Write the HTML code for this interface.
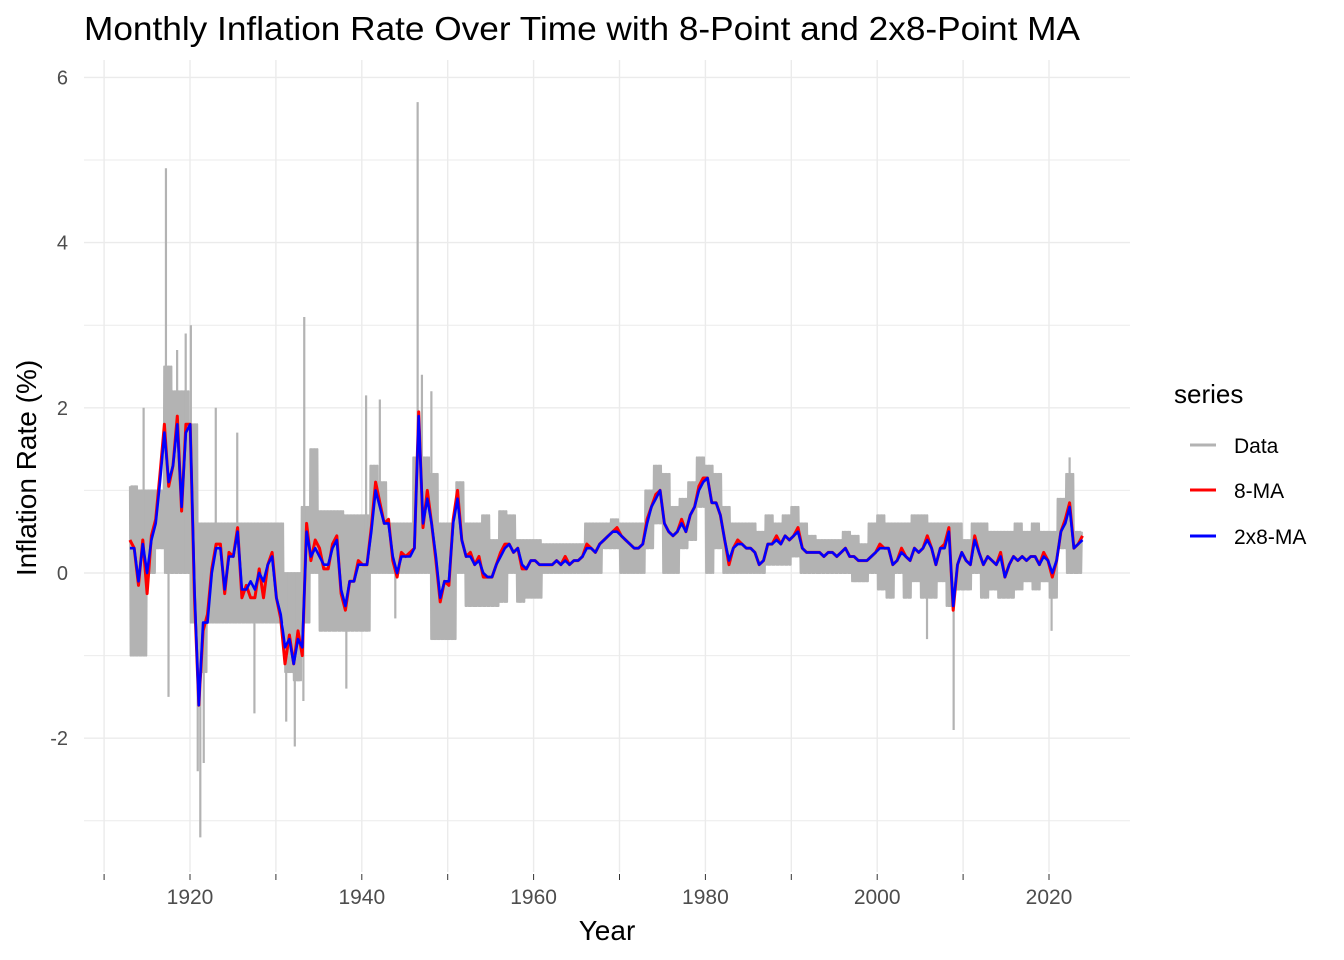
<!DOCTYPE html>
<html><head><meta charset="utf-8"><style>
body{margin:0;background:#fff}
svg{display:block;font-family:"Liberation Sans",Arial,sans-serif}
</style></head><body>
<svg id="chart" width="1344" height="960" viewBox="0 0 1344 960">
<text x="84" y="40" font-size="33" textLength="996" lengthAdjust="spacingAndGlyphs" fill="#000">Monthly Inflation Rate Over Time with 8-Point and 2x8-Point MA</text>
<g id="grid"></g>
<g id="axes"></g>
<g id="series"></g>
<text x="607" y="940" font-size="28" text-anchor="middle">Year</text>
<text transform="translate(36,468) rotate(-90)" font-size="28" text-anchor="middle">Inflation Rate (%)</text>
<g>
<text x="1174" y="403" font-size="26">series</text>
<line x1="1190" y1="445" x2="1216" y2="445" stroke="#b3b3b3" stroke-width="3"/>
<text x="1234" y="453" font-size="21">Data</text>
<line x1="1190" y1="490" x2="1216" y2="490" stroke="#ff0000" stroke-width="3"/>
<text x="1234" y="498" font-size="21">8-MA</text>
<line x1="1190" y1="536" x2="1216" y2="536" stroke="#0000ff" stroke-width="3"/>
<text x="1234" y="544" font-size="21">2x8-MA</text>
</g>
</svg>
<script>
const startYear = 1913;
const yTicks = [-2, 0, 2, 4, 6];
const yMinor = [-3, -1, 1, 3, 5];
const xTicks = [1920, 1940, 1960, 1980, 2000, 2020];
const xMinor = [1910, 1930, 1950, 1970, 1990, 2010];
// grey data: per year typical high / low band readings
const dataBand = [
1.05,-1.0, 1.0,-1.0, 1.0,0.0, 1.0,0.3, 2.5,0.0, 2.2,0.0, 2.2,0.0, 1.8,-0.6, 0.6,-1.2, 0.6,-0.6,
0.6,-0.6, 0.6,-0.6, 0.6,-0.6, 0.6,-0.6, 0.6,-0.6, 0.6,-0.6, 0.6,-0.6, 0.6,-0.6, 0.0,-1.2, 0.0,-1.3,
0.8,-0.6, 1.5,0.0, 0.75,-0.7, 0.75,-0.7, 0.75,-0.7, 0.7,-0.7, 0.7,-0.7, 0.7,-0.7, 1.3,0.0, 1.1,0.0,
0.6,0.0, 0.6,0.0, 0.6,0.0, 1.4,0.0, 1.4,0.0, 1.2,-0.8, 0.6,-0.8, 0.6,-0.8, 1.1,0.0, 0.6,-0.4,
0.6,-0.4, 0.7,-0.4, 0.4,-0.4, 0.75,-0.35, 0.7,0.0, 0.4,-0.35, 0.4,-0.3, 0.4,-0.3, 0.35,0.0, 0.35,0.0,
0.35,0.0, 0.35,0.0, 0.35,0.0, 0.6,0.0, 0.6,0.0, 0.6,0.3, 0.65,0.3, 0.6,0.0, 0.6,0.0, 0.6,0.0,
1.0,0.3, 1.3,0.6, 1.2,0.0, 0.8,0.0, 0.9,0.3, 1.1,0.4, 1.4,0.8, 1.3,0.0, 1.2,0.3, 0.8,0.0,
0.6,0.0, 0.6,0.0, 0.6,0.0, 0.5,0.0, 0.7,0.1, 0.6,0.1, 0.7,0.1, 0.8,0.2, 0.6,0.0, 0.45,0.0,
0.4,0.0, 0.4,0.0, 0.4,0.0, 0.5,0.0, 0.45,-0.1, 0.35,-0.1, 0.6,0.0, 0.7,-0.2, 0.6,-0.3, 0.6,0.0,
0.6,-0.3, 0.7,-0.1, 0.7,-0.3, 0.6,-0.3, 0.6,-0.1, 0.6,-0.4, 0.6,-0.2, 0.4,-0.2, 0.6,0.0, 0.6,-0.3,
0.5,-0.2, 0.5,-0.3, 0.5,-0.3, 0.6,-0.2, 0.5,-0.1, 0.6,-0.2, 0.5,-0.1, 0.5,-0.3, 0.9,0.3, 1.2,0.0,
0.5,0.0];
// isolated monthly spikes: year, value
const spikeYears = [1914.6, 1917.2, 1917.5, 1918.5, 1919.5, 1920.1, 1920.9, 1921.2, 1921.6, 1923.0, 1925.5, 1927.5, 1931.2, 1932.2, 1933.3, 1933.2, 1938.2, 1940.5, 1942.1, 1943.9, 1946.5, 1947.0, 1948.1, 2008.9, 2005.8, 2020.3, 2022.4];
const spikeValues = [2.0, 4.9, -1.5, 2.7, 2.9, 3.0, -2.4, -3.2, -2.3, 2.0, 1.7, -1.7, -1.8, -2.1, 3.1, -1.55, -1.4, 2.15, 2.1, -0.55, 5.7, 2.4, 2.2, -1.9, -0.8, -0.7, 1.4];
// 2x8 MA: two readings per year
const ma2x8 = [
0.3,0.3, -0.1,0.35, 0.0,0.4, 0.6,1.1, 1.7,1.1, 1.3,1.8, 0.8,1.7, 1.8,-0.2, -1.6,-0.6, -0.6,0.0,
0.3,0.3, -0.2,0.2, 0.2,0.5, -0.2,-0.2, -0.1,-0.2, 0.0,-0.1, 0.1,0.2, -0.3,-0.5, -0.9,-0.8, -1.1,-0.8,
-0.9,0.5, 0.2,0.3, 0.2,0.1, 0.1,0.3, 0.4,-0.2, -0.4,-0.1, -0.1,0.1, 0.1,0.1, 0.5,1.0, 0.8,0.6,
0.6,0.2, 0.0,0.2, 0.2,0.2, 0.3,1.9, 0.6,0.9, 0.6,0.2, -0.3,-0.1, -0.1,0.6, 0.9,0.4, 0.2,0.2,
0.1,0.15, 0.0,-0.05, -0.05,0.1, 0.2,0.3, 0.35,0.25, 0.3,0.1, 0.05,0.15, 0.15,0.1, 0.1,0.1, 0.1,0.15,
0.1,0.15, 0.1,0.15, 0.15,0.2, 0.3,0.3, 0.25,0.35, 0.4,0.45, 0.5,0.5, 0.45,0.4, 0.35,0.3, 0.3,0.35,
0.6,0.8, 0.9,1.0, 0.6,0.5, 0.45,0.5, 0.6,0.5, 0.7,0.8, 1.0,1.1, 1.15,0.85, 0.85,0.7, 0.4,0.15,
0.3,0.35, 0.35,0.3, 0.3,0.25, 0.1,0.15, 0.35,0.35, 0.4,0.35, 0.45,0.4, 0.45,0.5, 0.3,0.25, 0.25,0.25,
0.25,0.2, 0.25,0.25, 0.2,0.25, 0.3,0.2, 0.2,0.15, 0.15,0.15, 0.2,0.25, 0.3,0.3, 0.3,0.1, 0.15,0.25,
0.2,0.15, 0.3,0.25, 0.3,0.4, 0.3,0.1, 0.3,0.3, 0.5,-0.4, 0.1,0.25, 0.15,0.1, 0.4,0.25, 0.1,0.2,
0.15,0.1, 0.2,-0.05, 0.1,0.2, 0.15,0.2, 0.15,0.2, 0.2,0.1, 0.2,0.15, 0.0,0.15, 0.5,0.6, 0.8,0.3,
0.35,0.4];
// 8 MA: two readings per year
const ma8 = [
0.4,0.3, -0.15,0.4, -0.25,0.45, 0.65,1.2, 1.8,1.05, 1.3,1.9, 0.75,1.8, 1.8,-0.3, -1.6,-0.7, -0.5,0.05,
0.35,0.35, -0.25,0.25, 0.2,0.55, -0.3,-0.15, -0.3,-0.3, 0.05,-0.3, 0.1,0.25, -0.3,-0.55, -1.1,-0.75, -1.1,-0.7,
-1.0,0.6, 0.15,0.4, 0.3,0.05, 0.05,0.35, 0.45,-0.25, -0.45,-0.1, -0.1,0.15, 0.1,0.1, 0.55,1.1, 0.85,0.6,
0.65,0.15, -0.05,0.25, 0.2,0.25, 0.3,1.95, 0.55,1.0, 0.6,0.15, -0.35,-0.1, -0.15,0.65, 1.0,0.4, 0.2,0.25,
0.1,0.2, -0.05,-0.05, -0.05,0.1, 0.25,0.35, 0.35,0.25, 0.3,0.05, 0.05,0.15, 0.15,0.1, 0.1,0.1, 0.1,0.15,
0.1,0.2, 0.1,0.15, 0.15,0.2, 0.35,0.3, 0.25,0.35, 0.4,0.45, 0.5,0.55, 0.45,0.4, 0.35,0.3, 0.3,0.35,
0.65,0.8, 0.95,1.0, 0.6,0.5, 0.45,0.5, 0.65,0.5, 0.7,0.8, 1.05,1.15, 1.15,0.85, 0.85,0.7, 0.4,0.1,
0.3,0.4, 0.35,0.3, 0.3,0.25, 0.1,0.15, 0.35,0.35, 0.45,0.35, 0.45,0.4, 0.45,0.55, 0.3,0.25, 0.25,0.25,
0.25,0.2, 0.25,0.25, 0.2,0.25, 0.3,0.2, 0.2,0.15, 0.15,0.15, 0.2,0.25, 0.35,0.3, 0.3,0.1, 0.15,0.3,
0.2,0.15, 0.3,0.25, 0.3,0.45, 0.3,0.1, 0.3,0.35, 0.55,-0.45, 0.1,0.25, 0.15,0.1, 0.45,0.25, 0.1,0.2,
0.15,0.1, 0.25,-0.05, 0.1,0.2, 0.15,0.2, 0.15,0.2, 0.2,0.1, 0.25,0.15, -0.05,0.15, 0.5,0.65, 0.85,0.3,
0.35,0.45];

const NS = 'http://www.w3.org/2000/svg';
const xs = y => 190 + (y - 1920) * 8.59;
const ys = v => 573 - v * 82.6;
function mk(tag, attrs, parent) {
  const e = document.createElementNS(NS, tag);
  for (const k in attrs) e.setAttribute(k, attrs[k]);
  parent.appendChild(e);
  return e;
}
const grid = document.getElementById('grid');
const axes = document.getElementById('axes');
const series = document.getElementById('series');
yMinor.concat(yTicks).forEach(v => {
  const l = mk('line', {x1: 84, x2: 1130, y1: ys(v), y2: ys(v), stroke: '#ebebeb', 'stroke-width': yTicks.includes(v) ? 1.4 : 1}, grid);
  
  
});
xMinor.concat(xTicks).forEach(y => {
  const l = mk('line', {x1: xs(y), x2: xs(y), y1: 60, y2: 872, stroke: '#ebebeb', 'stroke-width': 1.4}, grid);
  
  
  const t = mk('line', {x1: xs(y), x2: xs(y), y1: 874, y2: 880, stroke: '#333', 'stroke-width': 1}, axes);
  
  
});
yTicks.forEach(v => {
  const t = mk('text', {x: 68, y: ys(v) + 7, 'font-size': 20, fill: '#4d4d4d', 'text-anchor': 'end'}, axes);
  
  
  t.textContent = v;
});
xTicks.forEach(y => {
  const t = mk('text', {x: xs(y), y: 904, 'font-size': 21, fill: '#4d4d4d', 'text-anchor': 'middle'}, axes);
  
  
  t.textContent = y;
});
// grey data band: monthly oscillation between each year's high and low readings
(function () {
  const years = dataBand.length / 2;
  let d = '';
  for (let i = 0; i < years; i++) {
    const hi = dataBand[2 * i], lo = dataBand[2 * i + 1];
    const steps = i === years - 1 ? 11 : 12;
    for (let m = 0; m < steps; m++) {
      const v = m % 2 ? lo : hi;
      d += (d ? 'L' : 'M') + xs(startYear + i + m / 12).toFixed(1) + ',' + ys(v).toFixed(1);
    }
  }
  const p = mk('path', {d: d, fill: 'none', stroke: '#b3b3b3', 'stroke-width': 2, 'stroke-linejoin': 'round'}, series);
  
  
})();
spikeYears.forEach((yr, i) => {
  const l = mk('line', {x1: xs(yr), x2: xs(yr), y1: ys(0), y2: ys(spikeValues[i]), stroke: '#b3b3b3', 'stroke-width': 2.2}, series);
  
  
});
function path(arr, color, w, name) {
  const n = arr.length;
  const span = 2023.9 - startYear;
  const d = arr.map((v, i) => (i ? 'L' : 'M') + xs(startYear + i * span / (n - 1)).toFixed(1) + ',' + ys(v).toFixed(1)).join('');
  const p = mk('path', {d: d, fill: 'none', stroke: color, 'stroke-width': w, 'stroke-linejoin': 'round'}, series);
  
  
}
path(ma8, '#ff0000', 3, 'ma8-line');
path(ma2x8, '#0000ff', 2.6, 'ma2x8-line');
</script>
</body></html>
